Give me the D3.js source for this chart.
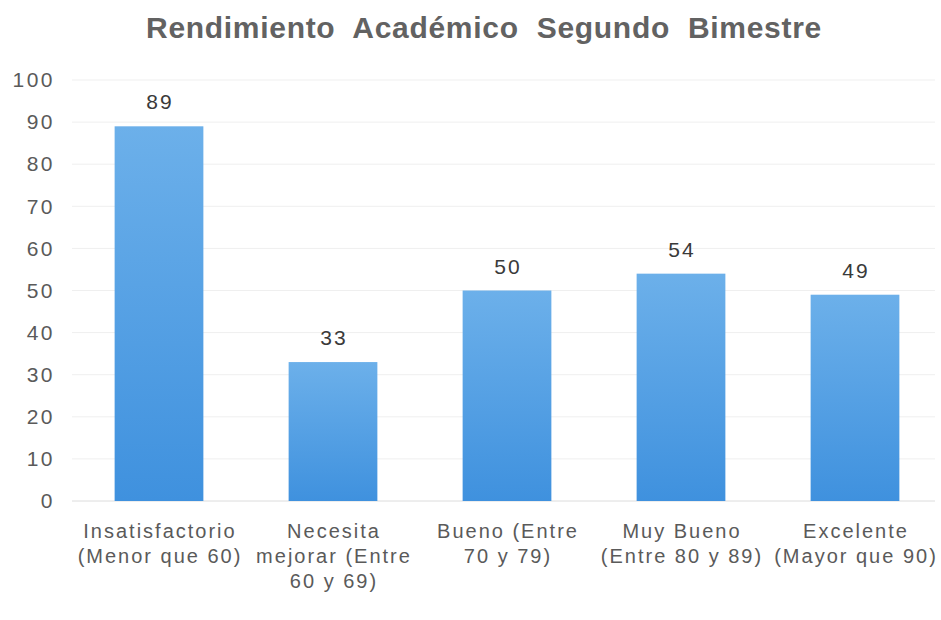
<!DOCTYPE html>
<html>
<head>
<meta charset="utf-8">
<script src="https://cdn.jsdelivr.net/npm/d3@7"></script>
<style>
	body { margin: 0; background: #fff; }
	svg { display: block; font-family: "Liberation Sans", Arial, sans-serif; }
</style>
</head>
<body>
<svg id="chart"></svg>
<script>
const width = 941;
const height = 620;

// data
const categories = [
	'Insatisfactorio (Menor que 60)',
	'Necesita mejorar (Entre 60 y 69)',
	'Bueno (Entre 70 y 79)',
	'Muy Bueno (Entre 80 y 89)',
	'Excelente (Mayor que 90)'
];
// how each label wraps under its bar
const labelLines = [
	['Insatisfactorio', '(Menor que 60)'],
	['Necesita', 'mejorar (Entre', '60 y 69)'],
	['Bueno (Entre', '70 y 79)'],
	['Muy Bueno', '(Entre 80 y 89)'],
	['Excelente', '(Mayor que 90)']
];
const values = [89, 33, 50, 54, 49];
const yTicks = [0, 10, 20, 30, 40, 50, 60, 70, 80, 90, 100];
const title = 'Rendimiento Académico Segundo Bimestre';

const svg = d3.select('#chart')
	.attr('width', width)
	.attr('height', height);

// bar gradient, lighter at top
const grad = svg.append('defs').append('linearGradient')
	.attr('id', 'barGrad')
	.attr('x1', 0).attr('y1', 0).attr('x2', 0).attr('y2', 1);
grad.append('stop').attr('offset', '0%').attr('stop-color', '#6cb0ea');
grad.append('stop').attr('offset', '100%').attr('stop-color', '#3f91de');

const x = d3.scaleBand()
	.domain(categories)
	.range([72, 942])
	.paddingInner(0.49)
	.paddingOuter(0.245);

const y = d3.scaleLinear()
	.domain([0, 100])
	.range([501, 80]);

// title
svg.append('text')
	.attr('x', 484)
	.attr('y', 38)
	.attr('text-anchor', 'middle')
	.attr('font-size', 30)
	.attr('font-weight', 'bold')
	.attr('letter-spacing', 0.7)
	.attr('word-spacing', 9)
	.attr('fill', '#626262')
	.text(title);

// gridlines
svg.append('g')
	.selectAll('line')
	.data(yTicks)
	.join('line')
	.attr('x1', 72)
	.attr('x2', 935)
	.attr('y1', d => y(d))
	.attr('y2', d => y(d))
	.attr('stroke', d => d === 0 ? '#dcdcdc' : '#efefef')
	.attr('stroke-width', 1);

// y axis labels
const yAxis = svg.append('g')
	.attr('transform', 'translate(55,0)')
	.call(d3.axisLeft(y).tickValues(yTicks).tickSize(0).tickPadding(0));
yAxis.select('.domain').remove();
yAxis.selectAll('text')
	.attr('font-size', 21)
	.attr('font-family', '"Liberation Sans", Arial, sans-serif')
	.attr('letter-spacing', 2.5)
	.attr('fill', '#5a5a5a');

// bars
svg.append('g')
	.selectAll('rect')
	.data(values)
	.join('rect')
	.attr('x', (d, i) => x(categories[i]))
	.attr('y', d => y(d))
	.attr('width', x.bandwidth())
	.attr('height', d => y(0) - y(d))
	.attr('fill', 'url(#barGrad)');

// value labels
svg.append('g')
	.selectAll('text')
	.data(values)
	.join('text')
	.attr('x', (d, i) => x(categories[i]) + x.bandwidth() / 2 + 1)
	.attr('y', d => y(d) - 17)
	.attr('text-anchor', 'middle')
	.attr('font-size', 21)
	.attr('letter-spacing', 2)
	.attr('fill', '#3a3a3a')
	.text(d => d);

// category labels
const catG = svg.append('g')
	.selectAll('text')
	.data(categories)
	.join('text')
	.attr('text-anchor', 'middle')
	.attr('font-size', 20)
	.attr('letter-spacing', 2)
	.attr('fill', '#5a5a5a');
catG.selectAll('tspan')
	.data((d, i) => labelLines[i].map(l => ({ l, c: d })))
	.join('tspan')
	.attr('x', d => x(d.c) + x.bandwidth() / 2 + 1)
	.attr('y', (d, j) => 538 + j * 25)
	.text(d => d.l);
</script>
</body>
</html>
